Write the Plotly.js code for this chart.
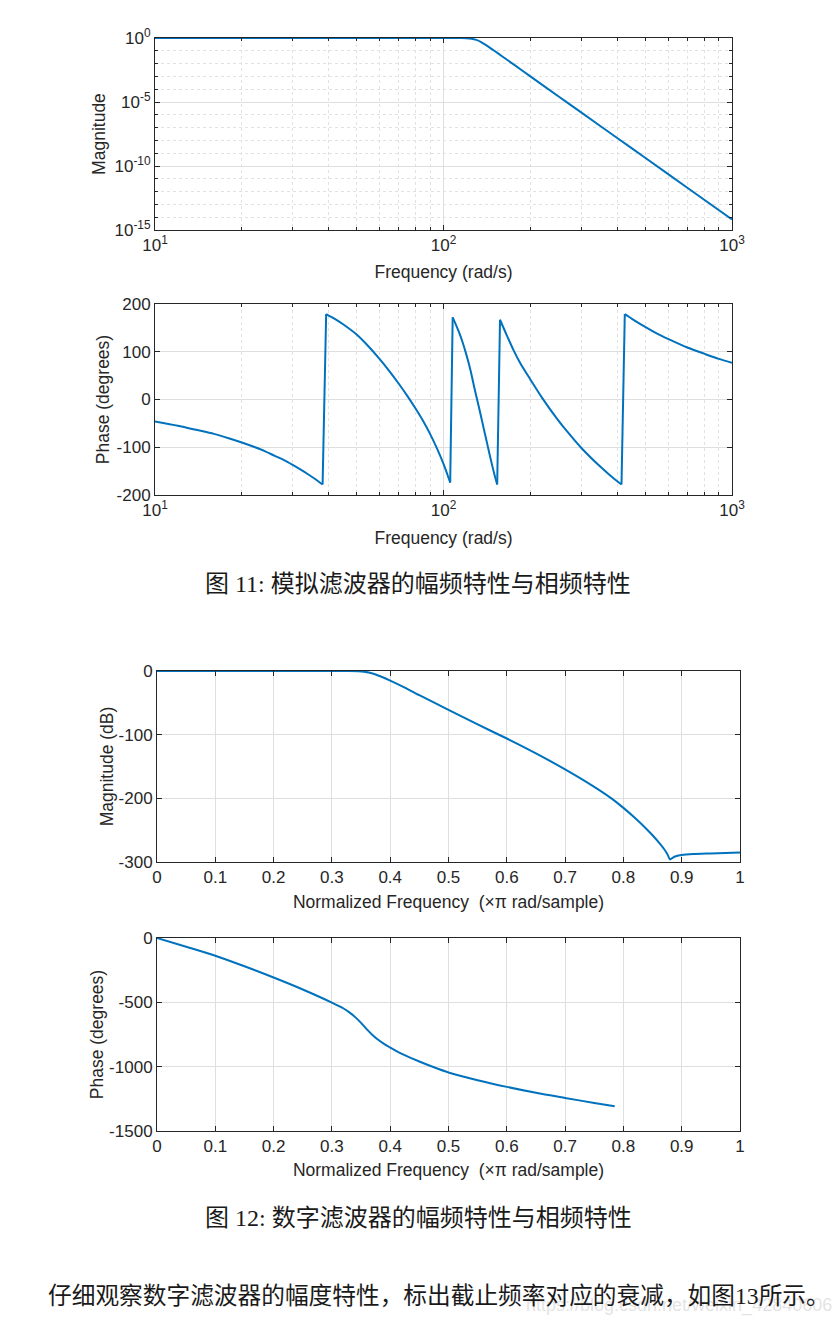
<!DOCTYPE html>
<html>
<head>
<meta charset="utf-8">
<script src="https://cdn.plot.ly/plotly-3.0.1.min.js"></script>
<style>
html,body{margin:0;padding:0;background:#ffffff;}
#chart{width:836px;height:1323px;}
</style>
</head>
<body>
<div id="chart"></div>
<script>
// ---------- Figure 11: analog filter (Bode) ----------
const anaMagFreq = [10, 20, 40, 60, 80, 100, 110, 115, 120, 125, 130, 135, 140, 145, 150, 160, 175, 200, 250, 300, 400, 500, 700, 1000];
const anaMag = [1, 1, 1, 1, 1, 0.9999, 0.998, 0.99, 0.963, 0.88, 0.707, 0.48, 0.29, 0.17, 0.1, 0.036, 0.0086, 1.0e-3, 2.8e-5, 1.55e-6, 1.55e-8, 4.4e-10, 2.0e-12, 6.6e-15];

const anaPhaseFreq = [10, 12, 14, 16, 18, 20, 22, 24, 26, 28, 30, 32, 34, 36, 38.1,
  39.2, 42, 45, 50, 55, 60, 65, 70, 75, 80, 85, 90, 95, 100, 103, 105.5,
  107.6, 110, 113, 116, 120, 124, 128, 131, 135, 138, 142, 146, 150, 153.5,
  157, 165, 175, 185, 200, 220, 248, 270, 300, 350, 380, 414,
  425, 450, 500, 550, 600, 700, 800, 900, 1000];
const anaPhase = [-46, -55, -64, -72, -81, -90, -99, -108, -118, -127, -137, -147, -157, -167, -178,
  179, 169, 157, 136, 111, 85, 59, 33, 7, -19, -45, -73, -103, -135, -156, -174,
  172, 159, 142, 123, 94, 62, 24, -2, -36, -62, -95, -127, -156, -178,
  167, 137, 103, 75, 42, 3, -41, -69, -101, -141, -160, -178,
  179, 169, 152, 138, 127, 109, 96, 85, 77];

// ---------- Figure 12: digital filter (freqz) ----------
const digMagFreq = [0, 0.05, 0.1, 0.15, 0.2, 0.25, 0.3, 0.33, 0.345, 0.355, 0.365, 0.375, 0.385, 0.4, 0.425, 0.45, 0.5, 0.55, 0.6, 0.65, 0.7, 0.75, 0.78, 0.8, 0.82, 0.84, 0.85, 0.86, 0.87, 0.875, 0.88, 0.885, 0.89, 0.9, 0.92, 0.95, 1.0];
const digMagDb = [0, 0, 0, 0, 0, 0, 0, -0.05, -0.3, -1, -2.8, -5.5, -9, -15, -26, -38, -61, -84, -106, -129.5, -154.5, -182, -200.5, -215, -231, -248.5, -258, -268.5, -280, -287, -296, -293, -291, -289, -287.5, -286.5, -285];

const digPhaseFreq = [0, 0.05, 0.1, 0.15, 0.2, 0.25, 0.3, 0.32, 0.33, 0.34, 0.35, 0.36, 0.37, 0.38, 0.39, 0.4, 0.41, 0.42, 0.45, 0.475, 0.5, 0.55, 0.6, 0.65, 0.7, 0.75, 0.785];
const digPhase = [0, -68, -138, -220, -307, -400, -502, -548, -578, -615, -660, -710, -755, -793, -825, -852, -877, -900, -960, -1005, -1045, -1105, -1157, -1203, -1243, -1282, -1307];

// ---------- tick labels ----------
const logXTickVals = [10, 100, 1000];
const logXTickText = ['10<sup>1</sup>', '10<sup>2</sup>', '10<sup>3</sup>'];
const logXMinorVals = [20, 30, 40, 50, 60, 70, 80, 90, 200, 300, 400, 500, 600, 700, 800, 900];
const magTickVals = [1e-15, 1e-10, 1e-5, 1];
const magTickText = ['10<sup>-15</sup>', '10<sup>-10</sup>', '10<sup>-5</sup>', '10<sup>0</sup>'];
const magMinorVals = [1e-14, 1e-13, 1e-12, 1e-11, 1e-9, 1e-8, 1e-7, 1e-6, 1e-4, 1e-3, 1e-2, 1e-1];
const phaseTickVals = [-200, -100, 0, 100, 200];
const phaseTickText = ['-200', '-100', '0', '100', '200'];
const dbTickVals = [-300, -200, -100, 0];
const dbTickText = ['-300', '-200', '-100', '0'];
const digPhaseTickVals = [-1500, -1000, -500, 0];
const digPhaseTickText = ['-1500', '-1000', '-500', '0'];
const normTickVals = [0, 0.1, 0.2, 0.3, 0.4, 0.5, 0.6, 0.7, 0.8, 0.9, 1];
const normTickText = ['0', '0.1', '0.2', '0.3', '0.4', '0.5', '0.6', '0.7', '0.8', '0.9', '1'];

const captions = ['图 11: 模拟滤波器的幅频特性与相频特性', '图 12: 数字滤波器的幅频特性与相频特性'];
const bodyText = '仔细观察数字滤波器的幅度特性，标出截止频率对应的衰减，如图13所示。';
const watermark = 'https://blog.csdn.net/weixin_42840606';

// ---------- styling ----------
const W = 836, H = 1323;
const LINE = '#0072BD';
const AX = '#262626';
const SANS = '"Liberation Sans", Arial, Helvetica, sans-serif';
const SERIF = '"Liberation Serif", "Times New Roman", "Noto Sans CJK SC", serif';
const px = v => v / W;
const py = v => 1 - v / H;

function axisBase(extra) {
  return Object.assign({
    showline: true, linecolor: AX, linewidth: 1, mirror: 'ticks',
    ticks: 'inside', ticklen: 5, tickwidth: 1, tickcolor: AX,
    showgrid: true, gridcolor: '#dfdfdf', gridwidth: 1, zeroline: false,
    tickfont: {family: SANS, size: 17, color: AX},
    fixedrange: true
  }, extra);
}
const logMinor = vals => ({
  tickmode: 'array', tickvals: vals, ticks: 'inside', ticklen: 3, tickcolor: AX,
  showgrid: true, gridcolor: '#e2e2e2', griddash: 'dot', gridwidth: 1
});
const titleFont = {family: SANS, size: 17.5, color: AX};

// split a wrapped phase curve into smooth branches + the vertical wrap connectors
function splitBranches(xs, ys) {
  const branches = [];
  const jumps = [];
  let cur = {x: [], y: []};
  for (let i = 0; i < xs.length; i++) {
    if (i > 0 && Math.abs(ys[i] - ys[i - 1]) > 180) {
      branches.push(cur);
      jumps.push({x: [xs[i - 1], xs[i]], y: [ys[i - 1], ys[i]]});
      cur = {x: [], y: []};
    }
    cur.x.push(xs[i]);
    cur.y.push(ys[i]);
  }
  branches.push(cur);
  return {branches, jumps};
}

const lineStyle = {color: LINE, width: 2};
const traces = [
  {x: anaMagFreq, y: anaMag, xaxis: 'x', yaxis: 'y', type: 'scatter', mode: 'lines',
   line: Object.assign({shape: 'spline', smoothing: 0.5}, lineStyle), hoverinfo: 'skip'}
];
const ph = splitBranches(anaPhaseFreq, anaPhase);
ph.branches.forEach(b => traces.push({x: b.x, y: b.y, xaxis: 'x2', yaxis: 'y2', type: 'scatter', mode: 'lines',
  line: Object.assign({shape: 'spline', smoothing: 0.7}, lineStyle), hoverinfo: 'skip'}));
ph.jumps.forEach(j => traces.push({x: j.x, y: j.y, xaxis: 'x2', yaxis: 'y2', type: 'scatter', mode: 'lines',
  line: lineStyle, hoverinfo: 'skip'}));
traces.push({x: digMagFreq, y: digMagDb, xaxis: 'x3', yaxis: 'y3', type: 'scatter', mode: 'lines',
  line: Object.assign({shape: 'spline', smoothing: 0.6}, lineStyle), hoverinfo: 'skip'});
traces.push({x: digPhaseFreq, y: digPhase, xaxis: 'x4', yaxis: 'y4', type: 'scatter', mode: 'lines',
  line: Object.assign({shape: 'spline', smoothing: 0.8}, lineStyle), hoverinfo: 'skip'});

const layout = {
  width: W, height: H,
  margin: {l: 0, r: 0, t: 0, b: 0},
  paper_bgcolor: '#ffffff', plot_bgcolor: '#ffffff',
  showlegend: false,
  xaxis: axisBase({type: 'log', range: [1, 3], domain: [px(155), px(732)], anchor: 'y',
    tickmode: 'array', tickvals: logXTickVals, ticktext: logXTickText, minor: logMinor(logXMinorVals),
    title: {text: 'Frequency (rad/s)', font: titleFont, standoff: 11}}),
  yaxis: axisBase({type: 'log', range: [-15, 0], domain: [py(230), py(38)], anchor: 'x',
    tickmode: 'array', tickvals: magTickVals, ticktext: magTickText, minor: logMinor(magMinorVals),
    title: {text: 'Magnitude', font: titleFont, standoff: 4}}),
  xaxis2: axisBase({type: 'log', range: [1, 3], domain: [px(155), px(732)], anchor: 'y2',
    tickmode: 'array', tickvals: logXTickVals, ticktext: logXTickText, minor: logMinor(logXMinorVals),
    title: {text: 'Frequency (rad/s)', font: titleFont, standoff: 12}}),
  yaxis2: axisBase({range: [-200, 200], domain: [py(495), py(304)], anchor: 'x2',
    tickmode: 'array', tickvals: phaseTickVals, ticktext: phaseTickText,
    title: {text: 'Phase (degrees)', font: titleFont, standoff: 2}}),
  xaxis3: axisBase({range: [0, 1], domain: [px(157), px(740)], anchor: 'y3',
    tickmode: 'array', tickvals: normTickVals, ticktext: normTickText,
    title: {text: 'Normalized Frequency \u00a0(\u00d7\u03c0 rad/sample)', font: titleFont, standoff: 9}}),
  yaxis3: axisBase({range: [-300, 0], domain: [py(862), py(671)], anchor: 'x3',
    tickmode: 'array', tickvals: dbTickVals, ticktext: dbTickText,
    title: {text: 'Magnitude (dB)', font: titleFont, standoff: 0}}),
  xaxis4: axisBase({range: [0, 1], domain: [px(157), px(740)], anchor: 'y4',
    tickmode: 'array', tickvals: normTickVals, ticktext: normTickText,
    title: {text: 'Normalized Frequency \u00a0(\u00d7\u03c0 rad/sample)', font: titleFont, standoff: 8}}),
  yaxis4: axisBase({range: [-1500, 0], domain: [py(1131), py(938)], anchor: 'x4',
    tickmode: 'array', tickvals: digPhaseTickVals, ticktext: digPhaseTickText,
    title: {text: 'Phase (degrees)', font: titleFont, standoff: 0}}),
  annotations: [
    {text: captions[0], xref: 'paper', yref: 'paper', x: px(418), y: py(584), xanchor: 'center', yanchor: 'middle',
     showarrow: false, font: {family: SERIF, size: 24, color: '#1a1a1a'}},
    {text: captions[1], xref: 'paper', yref: 'paper', x: px(418), y: py(1218), xanchor: 'center', yanchor: 'middle',
     showarrow: false, font: {family: SERIF, size: 24, color: '#1a1a1a'}},
    {text: watermark, xref: 'paper', yref: 'paper', x: px(834), y: py(1305), xanchor: 'right', yanchor: 'middle',
     showarrow: false, font: {family: SANS, size: 18, color: 'rgba(200,200,200,0.5)'}},
    {text: bodyText, xref: 'paper', yref: 'paper', x: px(46), y: py(1296), xanchor: 'left', yanchor: 'middle',
     showarrow: false, font: {family: SERIF, size: 23.7, color: '#1a1a1a'}}
  ]
};

Plotly.newPlot('chart', traces, layout, {staticPlot: true, displayModeBar: false});
</script>
</body>
</html>
